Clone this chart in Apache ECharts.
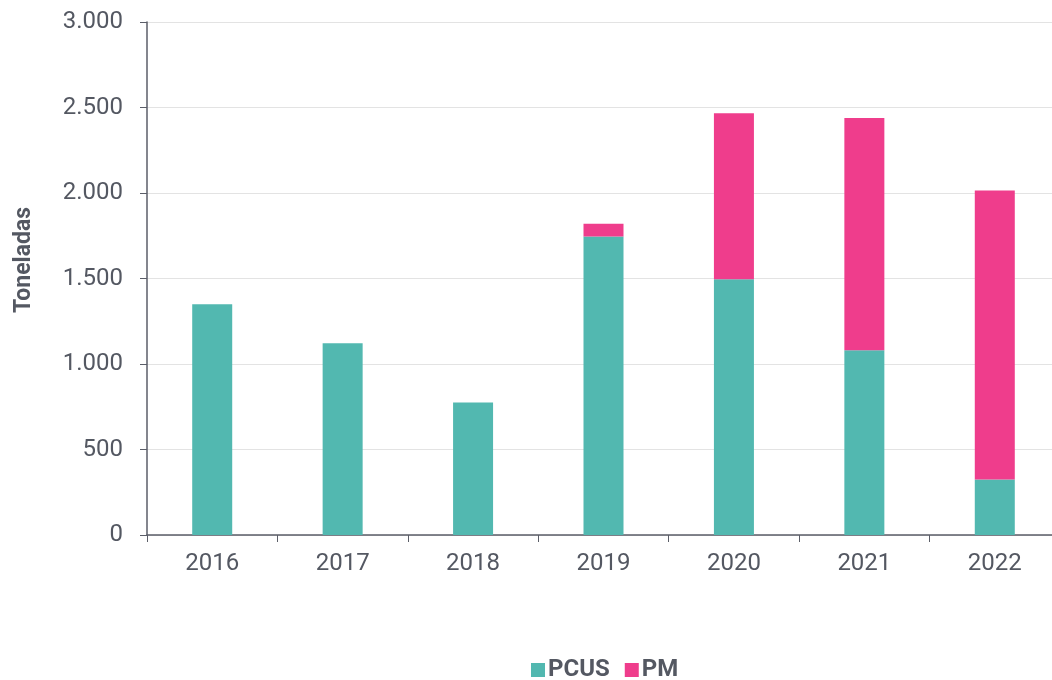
<!DOCTYPE html>
<html>
<head>
<meta charset="utf-8">
<script src="https://cdn.jsdelivr.net/npm/echarts@6/dist/echarts.min.js"></script>
<style>
  html, body { margin: 0; padding: 0; background: #fff; }
  #chart { width: 1052px; height: 680px; }
</style>
</head>
<body>
<div id="chart"></div>
<script>
// datos
var years = ['2016', '2017', '2018', '2019', '2020', '2021', '2022'];
var pcus = [1350, 1122, 775, 1745, 1495, 1080, 325];
var pm = [0, 0, 0, 75, 972, 1358, 1690];
var yTicks = [0, 500, 1000, 1500, 2000, 2500, 3000];

var textColor = '#545862';
var fontFam = 'Roboto, "Noto Sans", sans-serif';

function fmt(v) {
    return String(v).replace(/\B(?=(\d{3})+(?!\d))/g, '.');
}

var chart = echarts.init(document.getElementById('chart'));
chart.setOption({
    backgroundColor: '#fff',
    animation: false,
    textStyle: { fontFamily: fontFam },
    grid: { left: 147, top: 22, width: 913, height: 513, outerBoundsMode: 'none' },
    legend: {
        data: ['PCUS', 'PM'],
        bottom: -7,
        left: 526,
        itemWidth: 14,
        itemHeight: 14,
        itemGap: 15,
        icon: 'rect',
        textStyle: { fontSize: 24, fontWeight: 'bold', color: textColor, fontFamily: fontFam, padding: [0, 0, 0, -2] }
    },
    xAxis: {
        type: 'category',
        data: years,
        axisLine: { lineStyle: { color: '#5b5e68', width: 1.5 } },
        axisTick: { show: true, length: 7, lineStyle: { color: '#5b5e68' } },
        axisLabel: { fontSize: 24, color: textColor, margin: 17, fontFamily: fontFam }
    },
    yAxis: {
        type: 'value',
        min: yTicks[0],
        max: yTicks[yTicks.length - 1],
        interval: 500,
        name: 'Toneladas',
        nameLocation: 'middle',
        nameGap: 111,
        nameTextStyle: { fontSize: 23, fontWeight: 'bold', color: textColor, fontFamily: fontFam, padding: [0, 0, 0, 37] },
        axisLine: { show: true, lineStyle: { color: '#5b5e68', width: 1.5 } },
        axisTick: { show: true, length: 7, lineStyle: { color: '#5b5e68' } },
        axisLabel: { fontSize: 24, color: textColor, margin: 24, formatter: fmt, fontFamily: fontFam },
        splitLine: { lineStyle: { color: '#e3e3e3' } }
    },
    series: [
        {
            name: 'PCUS',
            type: 'bar',
            stack: 'total',
            barWidth: 40,
            data: pcus,
            itemStyle: { color: '#52b8b0' }
        },
        {
            name: 'PM',
            type: 'bar',
            stack: 'total',
            barWidth: 40,
            data: pm,
            itemStyle: { color: '#ef3d8c' }
        }
    ]
});
</script>
</body>
</html>
